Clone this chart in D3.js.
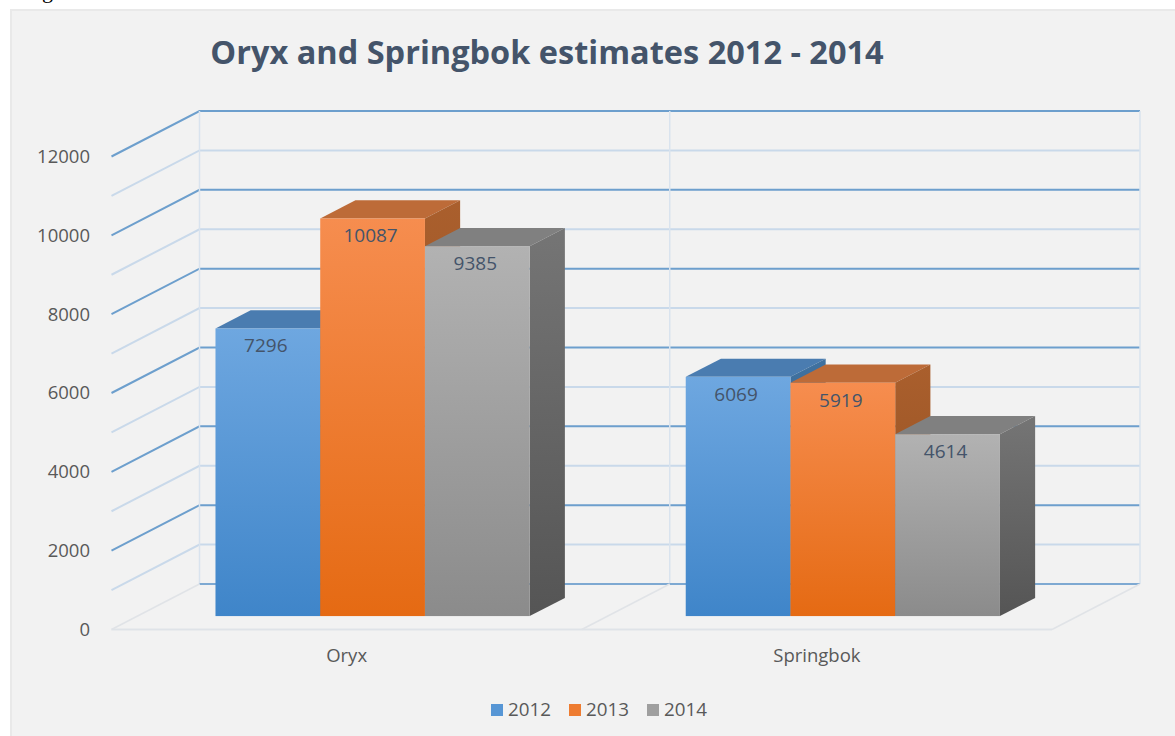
<!DOCTYPE html>
<html>
<head>
<meta charset="utf-8">
<script src="https://cdnjs.cloudflare.com/ajax/libs/d3/7.8.5/d3.min.js"></script>
<style>
  html, body { margin: 0; padding: 0; background: #fff; overflow: hidden; }
  text { font-family: "Open Sans", sans-serif; }
</style>
</head>
<body>
<div id="chart"></div>
<script>
// data
var categories = ["Oryx", "Springbok"];
var years = ["2012", "2013", "2014"];
var values2012 = [7296, 6069];
var values2013 = [10087, 5919];
var values2014 = [9385, 4614];
var yTicks = [0, 2000, 4000, 6000, 8000, 10000, 12000];
var minorTicks = [1000, 3000, 5000, 7000, 9000, 11000];
var chartTitle = "Oryx and Springbok estimates 2012 - 2014";

var seriesValues = [values2012, values2013, values2014];

// colours per series
var frontTop = ["#6ea7e0", "#f68d4f", "#b2b2b2"];
var frontBottom = ["#3f85c9", "#e56a13", "#8b8b8b"];
var topFace = ["#4a7cb0", "#bd6b38", "#808080"];
var sideTop = ["#40719f", "#aa5f2d", "#757575"];
var sideBottom = ["#2f5f8f", "#8f4d1f", "#555555"];

var width = 1175, height = 736;

var svg = d3.select("#chart")
  .append("svg")
  .attr("width", width)
  .attr("height", height)
  .style("display", "block");

// panel behind the chart, runs off the right and bottom edges
svg.append("rect")
  .attr("x", 11).attr("y", 10)
  .attr("width", width).attr("height", height)
  .attr("fill", "#f2f2f2")
  .attr("stroke", "#e9e9e9")
  .attr("stroke-width", 2);

// tail of a letter from the line above, cut off by the top edge
svg.append("text")
  .attr("x", 42).attr("y", -2)
  .style("font-family", "'Liberation Serif', serif")
  .style("font-size", "22px")
  .attr("fill", "#000")
  .text("g");

// scales: front plane of the 3D box
var x = d3.scaleBand().domain(categories).range([111.5, 1052]);
var xInner = d3.scaleBand().domain(years).range([0, x.bandwidth()]).paddingOuter(0.745);
var y = d3.scaleLinear().domain([0, 12000]).range([629.5, 156.5]);

// depth of the box, z goes 0 (front) to 1 (back wall)
var depthX = 88, depthY = -45.5;
var barZ0 = 0.295, barZ1 = 0.695;

function px(xv, z) { return xv + depthX * z; }
function py(v, z) { return y(v) + depthY * z; }

var defs = svg.append("defs");
years.forEach(function(yr, i) {
  var g = defs.append("linearGradient").attr("id", "front" + i)
    .attr("x1", 0).attr("y1", 0).attr("x2", 0).attr("y2", 1);
  g.append("stop").attr("offset", "0%").attr("stop-color", frontTop[i]);
  g.append("stop").attr("offset", "100%").attr("stop-color", frontBottom[i]);
  var s = defs.append("linearGradient").attr("id", "side" + i)
    .attr("x1", 0).attr("y1", 0).attr("x2", 0).attr("y2", 1);
  s.append("stop").attr("offset", "0%").attr("stop-color", sideTop[i]);
  s.append("stop").attr("offset", "100%").attr("stop-color", sideBottom[i]);
});

// walls and gridlines
var grid = svg.append("g").attr("fill", "none");
var xLeft = x.range()[0], xRight = x.range()[1];

function gridLine(v, color, w) {
  grid.append("polyline")
    .attr("points", [[px(xLeft, 0), py(v, 0)], [px(xLeft, 1), py(v, 1)], [px(xRight, 1), py(v, 1)]].join(" "))
    .attr("stroke", color)
    .attr("stroke-width", w);
}
minorTicks.forEach(function(v) { gridLine(v, "#c9d9ea", 2); });
yTicks.filter(function(v) { return v > 0; }).forEach(function(v) { gridLine(v, "#6d9fcd", 2); });

// vertical lines on back wall
[xLeft, x("Springbok"), xRight].forEach(function(xv) {
  grid.append("line")
    .attr("x1", px(xv, 1)).attr("x2", px(xv, 1))
    .attr("y1", py(0, 1)).attr("y2", py(12000, 1))
    .attr("stroke", "#d9e3ee").attr("stroke-width", 1.5);
});

// floor
grid.append("line")
  .attr("x1", px(xLeft, 1)).attr("x2", px(xRight, 1))
  .attr("y1", py(0, 1)).attr("y2", py(0, 1))
  .attr("stroke", "#7ea9d2").attr("stroke-width", 2);
grid.append("line")
  .attr("x1", xLeft).attr("x2", xRight)
  .attr("y1", y(0)).attr("y2", y(0))
  .attr("stroke", "#dfe3e8").attr("stroke-width", 2);
[xLeft, x("Springbok"), xRight].forEach(function(xv) {
  grid.append("line")
    .attr("x1", px(xv, 0)).attr("x2", px(xv, 1))
    .attr("y1", py(0, 0)).attr("y2", py(0, 1))
    .attr("stroke", "#e0e3e7").attr("stroke-width", 1.5);
});

// bars, left to right so later ones cover the side of the earlier
var bars = svg.append("g");
var labels = svg.append("g");
categories.forEach(function(cat, c) {
  years.forEach(function(yr, s) {
    var v = seriesValues[s][c];
    var x0 = x(cat) + xInner(yr);
    var x1 = x0 + xInner.bandwidth();
    var g = bars.append("g");

    // top face
    g.append("polygon")
      .attr("points", [[px(x0, barZ0), py(v, barZ0)], [px(x1, barZ0), py(v, barZ0)],
                       [px(x1, barZ1), py(v, barZ1)], [px(x0, barZ1), py(v, barZ1)]].join(" "))
      .attr("fill", topFace[s]);

    // side face
    g.append("polygon")
      .attr("points", [[px(x1, barZ0), py(v, barZ0)], [px(x1, barZ1), py(v, barZ1)],
                       [px(x1, barZ1), py(0, barZ1)], [px(x1, barZ0), py(0, barZ0)]].join(" "))
      .attr("fill", "url(#side" + s + ")");

    // front face
    g.append("rect")
      .attr("x", px(x0, barZ0))
      .attr("y", py(v, barZ0))
      .attr("width", x1 - x0)
      .attr("height", y(0) - y(v))
      .attr("fill", "url(#front" + s + ")");

    labels.append("text")
      .attr("x", px((x0 + x1) / 2, barZ0) - 2)
      .attr("y", py(v, barZ0) + 17)
      .attr("text-anchor", "middle")
      .attr("dominant-baseline", "central")
      .style("font-size", "19px")
      .attr("fill", "#44546a")
      .text(v);
  });
});

// axes
var yAxis = d3.axisLeft(y).tickValues(yTicks).tickSize(0).tickPadding(0).tickFormat(d3.format("d"));
var xAxis = d3.axisBottom(x).tickSize(0).tickPadding(19);

var yG = svg.append("g").attr("transform", "translate(90,0)").call(yAxis);
var xG = svg.append("g").attr("transform", "translate(0," + y(0) + ")").call(xAxis);
[yG, xG].forEach(function(a) {
  a.select(".domain").remove();
  a.selectAll("text")
    .style("font-family", "'Open Sans', sans-serif")
    .style("font-size", "18.5px")
    .attr("fill", "#595959");
});

// title
svg.append("text")
  .attr("x", 547).attr("y", 64)
  .attr("text-anchor", "middle")
  .style("font-size", "32.5px")
  .style("font-weight", 700)
  .attr("fill", "#44546a")
  .text(chartTitle);

// legend
var legendX = d3.scaleOrdinal().domain(years).range([491, 569, 647]);
var legend = svg.append("g");
years.forEach(function(yr, i) {
  legend.append("rect")
    .attr("x", legendX(yr)).attr("y", 704)
    .attr("width", 12).attr("height", 12)
    .attr("fill", d3.interpolateRgb(frontTop[i], frontBottom[i])(0.5));
  legend.append("text")
    .attr("x", legendX(yr) + 17).attr("y", 709)
    .attr("dominant-baseline", "central")
    .style("font-size", "18.8px")
    .attr("fill", "#595959")
    .text(yr);
});
</script>
</body>
</html>
